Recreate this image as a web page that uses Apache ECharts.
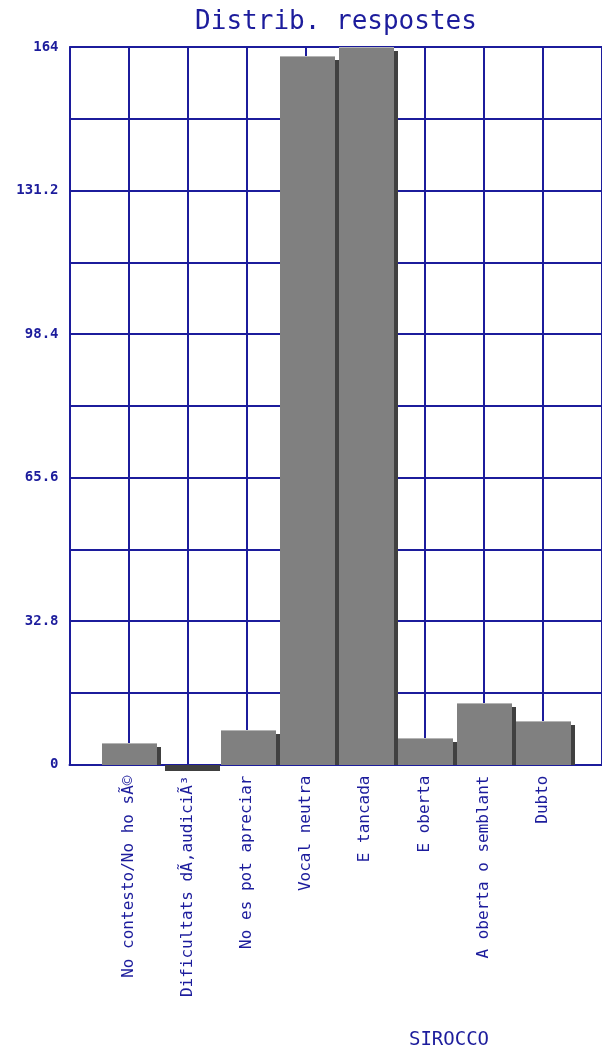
<!DOCTYPE html>
<html>
<head>
<meta charset="utf-8">
<script src="https://cdn.jsdelivr.net/npm/echarts@6/dist/echarts.min.js"></script>
<style>
html,body{margin:0;padding:0;background:#fff;}
#c{width:602px;height:1048px;}
</style>
</head>
<body>
<div id="c"></div>
<script>
const categories = ['', 'No contesto/No ho sÃ©', 'Dificultats dÃ‚audiciÃ³', 'No es pot apreciar', 'Vocal neutra', 'E tancada', 'E oberta', 'A oberta o semblant', 'Dubto', ''];
const values = [null, 5, -1, 8, 162, 164, 6, 14, 10, null];
const yTickLabels = ['0', '', '32.8', '', '65.6', '', '98.4', '', '131.2', '', '164'];
const titleText = 'Distrib. respostes';
const footerText = 'SIROCCO';

const navy = '#1c1c9c';
const barColor = '#808080';
const shadowColor = '#404040';
const edgeColor = '#b4b4b4';

function renderBar(params, api) {
  const idx = api.value(0);
  const v = api.value(1);
  const base = api.coord([idx, 0]);
  const top = api.coord([idx, v]);
  const w = Math.round(api.size([1, 0])[0] * 0.932);
  const x0 = Math.round(base[0] - w / 2 + 1);
  const yb = Math.round(base[1]);
  const yt = Math.round(top[1]);
  const children = [];
  if (v >= 0) {
    const h = yb - yt;
    children.push({ type: 'rect', shape: { x: x0 + w - 1, y: yt + 4, width: 5, height: Math.max(0, h - 4) }, style: { fill: shadowColor } });
    children.push({ type: 'rect', shape: { x: x0, y: yt, width: w, height: h }, style: { fill: barColor } });
    children.push({ type: 'rect', shape: { x: x0, y: yt, width: w, height: 1 }, style: { fill: edgeColor } });
  } else {
    const h = yt - yb;
    children.push({ type: 'rect', shape: { x: x0 + 4, y: yb, width: w, height: h + 2 }, style: { fill: shadowColor } });
  }
  return { type: 'group', children: children };
}

const barData = [];
values.forEach(function (v, i) { if (v !== null) barData.push([i, v]); });

const chart = echarts.init(document.getElementById('c'));
chart.setOption({
  animation: false,
  backgroundColor: '#fff',
  grid: { left: 69.5, right: -2, top: 47, bottom: 283.5, containLabel: false },
  graphic: [
    { type: 'text', x: 336, y: 22, style: { text: titleText, fill: navy, font: '26px "DejaVu Sans Mono"', textAlign: 'center', textVerticalAlign: 'middle' } },
    { type: 'text', x: 449, y: 1040, style: { text: footerText, fill: navy, font: '19px "DejaVu Sans Mono"', textAlign: 'center', textVerticalAlign: 'middle' } }
  ],
  xAxis: {
    type: 'category',
    data: categories,
    boundaryGap: false,
    axisTick: { show: false },
    axisLine: { lineStyle: { color: navy, width: 2 } },
    splitLine: { show: true, lineStyle: { color: navy, width: 2 } },
    axisLabel: { rotate: 90, interval: 0, margin: 11, color: navy, fontFamily: 'DejaVu Sans Mono', fontSize: 16 }
  },
  yAxis: {
    type: 'value',
    min: 0, max: 164, interval: 16.4,
    axisLine: { show: true, lineStyle: { color: navy, width: 2 } },
    axisTick: { show: false },
    splitLine: { show: true, lineStyle: { color: navy, width: 2 } },
    axisLabel: {
      margin: 11, color: navy, fontFamily: 'DejaVu Sans Mono', fontSize: 14, fontWeight: 'bold',
      formatter: function (v, i) { return yTickLabels[i] || ''; }
    }
  },
  series: [{
    type: 'custom',
    renderItem: renderBar,
    clip: false,
    z: 2,
    encode: { x: 0, y: 1 },
    data: barData
  }]
});
</script>
</body>
</html>
